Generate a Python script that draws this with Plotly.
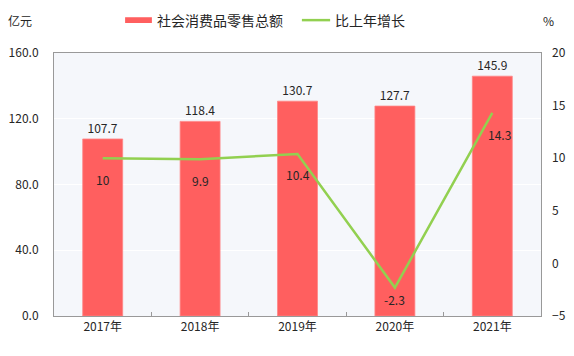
import plotly.graph_objects as go

years = ["2017年", "2018年", "2019年", "2020年", "2021年"]
sales = [107.7, 118.4, 130.7, 127.7, 145.9]
growth = [10, 9.9, 10.4, -2.3, 14.3]
sales_labels = ["107.7", "118.4", "130.7", "127.7", "145.9"]
growth_labels = ["10", "9.9", "10.4", "-2.3", "14.3"]

FONT = "Noto Sans CJK SC"
BAR_COLOR = "#FF5F5F"
LINE_COLOR = "#92D050"
TXT = "#262626"

fig = go.Figure()
fig.add_trace(go.Bar(
    x=years, y=sales, name="社会消费品零售总额",
    marker=dict(color=BAR_COLOR, line=dict(width=0.8, color="#FF8585")),
    width=0.41,
    text=sales_labels, textposition="outside", cliponaxis=False,
    textfont=dict(size=12, color=TXT, family=FONT),
    showlegend=False,
))
fig.add_trace(go.Scatter(
    x=years, y=growth, name="比上年增长", yaxis="y2",
    mode="lines",
    line=dict(color=LINE_COLOR, width=2.5),
    showlegend=False,
))

# label placement style (pixel offsets from each point)
label_dx = [0, 0, 0, 0, 7]
label_dy = [-21, -21, -21, -12, -22]

annotations = []
for yr, g, lab, dx, dy in zip(years, growth, growth_labels, label_dx, label_dy):
    annotations.append(dict(
        x=yr, y=g, xref="x", yref="y2", text=lab, showarrow=False,
        xanchor="center", yanchor="middle", xshift=dx, yshift=dy,
        font=dict(size=12, color=TXT, family=FONT),
    ))

# axis unit titles
annotations += [
    dict(text="亿元", xref="paper", yref="paper", x=-0.07, y=1.125,
         xanchor="center", yanchor="middle", showarrow=False,
         font=dict(size=12, color=TXT)),
    dict(text="%", xref="paper", yref="paper", x=1.016, y=1.125,
         xanchor="center", yanchor="middle", showarrow=False,
         font=dict(size=12, color=TXT)),
    # legend texts
    dict(text="社会消费品零售总额", xref="paper", yref="paper", x=0.207, y=1.125,
         xanchor="left", yanchor="middle", showarrow=False,
         font=dict(size=14, color=TXT)),
    dict(text="比上年增长", xref="paper", yref="paper", x=0.573, y=1.125,
         xanchor="left", yanchor="middle", showarrow=False,
         font=dict(size=14, color=TXT)),
]

shapes = [
    dict(type="rect", xref="paper", yref="paper", x0=0.146, x1=0.201,
         y0=1.114, y1=1.136, fillcolor=BAR_COLOR, line=dict(width=0)),
    dict(type="line", xref="paper", yref="paper", x0=0.509, x1=0.567,
         y0=1.125, y1=1.125, line=dict(color=LINE_COLOR, width=2.5)),
]

fig.update_layout(
    width=574, height=356,
    margin=dict(l=54, r=33, t=53, b=40, autoexpand=False),
    paper_bgcolor="white",
    plot_bgcolor="#F5F7FB",
    font=dict(family=FONT, size=12, color=TXT),
    showlegend=False,
    annotations=annotations,
    shapes=shapes,
    xaxis=dict(
        showgrid=False, ticks="inside", tickson="boundaries", ticklen=4,
        tickcolor="#999999", showline=True, linecolor="#999999", linewidth=1,
        mirror=True, tickfont=dict(size=12, color=TXT), automargin=False,
    ),
    yaxis=dict(
        range=[0, 160], dtick=40, tickformat=".1f",
        showgrid=True, gridcolor="white", gridwidth=1,
        showline=True, linecolor="#999999", linewidth=1, mirror=True,
        zeroline=False, ticks="", tickfont=dict(size=12, color=TXT),
        ticklabelstandoff=12, automargin=False,
    ),
    yaxis2=dict(
        range=[-5, 20], dtick=5, overlaying="y", side="right",
        showgrid=False, zeroline=False, showline=False, ticks="",
        tickfont=dict(size=12, color=TXT), ticklabelstandoff=10,
        automargin=False,
    ),
)

fig.write_html("out.html",
               config={"displayModeBar": False, "staticPlot": True},
               post_script="document.body.style.margin='0';document.body.style.padding='0';")
